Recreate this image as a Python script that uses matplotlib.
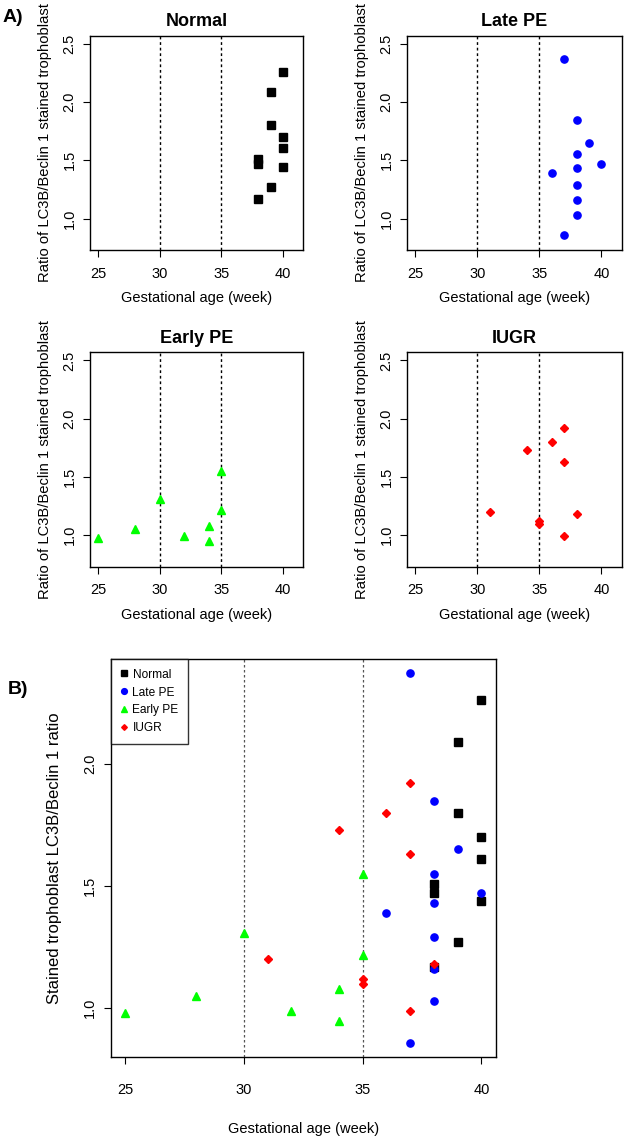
import matplotlib
matplotlib.use("Agg")
import matplotlib.pyplot as plt


plt.rcParams["font.family"      ] = ["Liberation Sans", "DejaVu Sans"]
plt.rcParams["font.size"        ] = 10
plt.rcParams["xtick.direction"  ] = "out"
plt.rcParams["ytick.direction"  ] = "out"
plt.rcParams["xtick.major.size" ] = 5
plt.rcParams["ytick.major.size" ] = 5
plt.rcParams["axes.linewidth"   ] = 1.0


# data: gestational age (week) and LC3B/Beclin 1 ratio
normal_week  = [40, 39, 39, 40, 40, 38, 38, 40, 39, 38]
normal_ratio = [2.26, 2.09, 1.80, 1.70, 1.61, 1.51, 1.47, 1.44, 1.27, 1.17]

late_week    = [37, 38, 39, 38, 40, 38, 36, 38, 38, 38, 37]
late_ratio   = [2.37, 1.85, 1.65, 1.55, 1.47, 1.43, 1.39, 1.29, 1.16, 1.03, 0.86]

early_week   = [25, 28, 30, 32, 34, 34, 35, 35]
early_ratio  = [0.98, 1.05, 1.31, 0.99, 1.08, 0.95, 1.55, 1.22]

iugr_week    = [37, 36, 34, 37, 31, 38, 35, 35, 37]
iugr_ratio   = [1.92, 1.80, 1.73, 1.63, 1.20, 1.18, 1.12, 1.10, 0.99]

group_names  = ["Normal", "Late PE", "Early PE", "IUGR"]
cut_weeks    = [30, 35]
x_ticks      = [25, 30, 35, 40]
y_ticks_a    = [1.0, 1.5, 2.0, 2.5]
y_ticks_b    = [1.0, 1.5, 2.0]

W, H = 625, 1141

styles = {
    "Normal"  : dict(marker="s", color="black",   ms=5.4),
    "Late PE" : dict(marker="o", color="#0000FF", ms=5.2),
    "Early PE": dict(marker="^", color="#00FF00", ms=6.2),
    "IUGR"    : dict(marker="D", color="#FF0000", ms=3.6),
}


def px_axes(fig, left, right, top, bottom):
    return fig.add_axes([left / W, 1 - bottom / H, (right - left) / W, (bottom - top) / H])


def style_axis(ax, y_ticks, xpad, ylab_dx, xlab_dy, ylabel, ylabel_size):
    ax.set_xticks(x_ticks)
    ax.set_yticks(y_ticks)
    ax.set_yticklabels([f"{v:.1f}" for v in y_ticks], rotation=90, va="center")
    ax.tick_params(axis="x", pad=xpad, labelsize=10.5)
    ax.tick_params(axis="y", pad=5, labelsize=10.5)
    bbox = ax.get_position()
    ax.set_xlabel("Gestational age (week)", fontsize=10.5)
    ax.xaxis.set_label_coords(0.5, -xlab_dy / (bbox.height * H))
    ax.set_ylabel(ylabel, fontsize=ylabel_size)
    ax.yaxis.set_label_coords(-ylab_dx / (bbox.width * W), 0.5)


def panel_a(fig, ax, name, weeks, ratios):
    for w in cut_weeks:
        ax.axvline(w, color="black", lw=1.0, ls=(0, (2, 2)))
    st = styles[name]
    ax.plot(weeks, ratios, ls="none", marker=st["marker"], color=st["color"],
            ms=st["ms"], mec=st["color"])
    ax.set_xlim(24.36, 41.64)
    ax.set_ylim(0.73, 2.57)
    ax.set_title(name, fontsize=13, fontweight="bold", pad=7)
    style_axis(ax, y_ticks_a, 7, 38, 41, "Ratio of LC3B/Beclin 1 stained trophoblast", 10.6)


def main():
    fig = plt.figure(figsize=(W / 100, H / 100), dpi=100)

    all_data = [(normal_week, normal_ratio), (late_week, late_ratio),
                (early_week, early_ratio), (iugr_week, iugr_ratio)]
    boxes = [(90.3, 303.3, 35.7, 250.0), (407.3, 621.7, 35.7, 250.0),
             (90.3, 303.3, 352.3, 566.7), (407.3, 621.7, 352.3, 566.7)]
    for name, (weeks, ratios), box in zip(group_names, all_data, boxes):
        ax = px_axes(fig, *box)
        panel_a(fig, ax, name, weeks, ratios)

    # combined panel B
    axb = px_axes(fig, 111, 495.7, 659, 1056.7)
    for w in cut_weeks:
        axb.axvline(w, color="#555555", lw=0.9, ls=(0, (2, 2)))
    for name, (weeks, ratios) in zip(group_names, all_data):
        st = styles[name]
        axb.plot(weeks, ratios, ls="none", marker=st["marker"], color=st["color"],
                 ms=st["ms"], mec=st["color"], label=name)
    axb.set_xlim(24.4, 40.6)
    axb.set_ylim(0.802, 2.429)
    style_axis(axb, y_ticks_b, 14, 49, 65, "Stained trophoblast LC3B/Beclin 1 ratio", 12)
    leg = axb.legend(loc="upper left", fontsize=8.6, frameon=True, fancybox=False,
                     edgecolor="black", borderaxespad=0, handlelength=0.6,
                     handletextpad=0.4, labelspacing=0.5, markerscale=0.8,
                     borderpad=0.8)
    leg.get_frame().set_linewidth(1.0)

    fig.text(3 / W, 1 - 17 / H, "A)", fontsize=14, fontweight="bold", va="center")
    fig.text(8 / W, 1 - 690 / H, "B)", fontsize=14, fontweight="bold", va="center")

    fig.savefig("out.png", dpi=100)


if __name__ == "__main__":
    main()
